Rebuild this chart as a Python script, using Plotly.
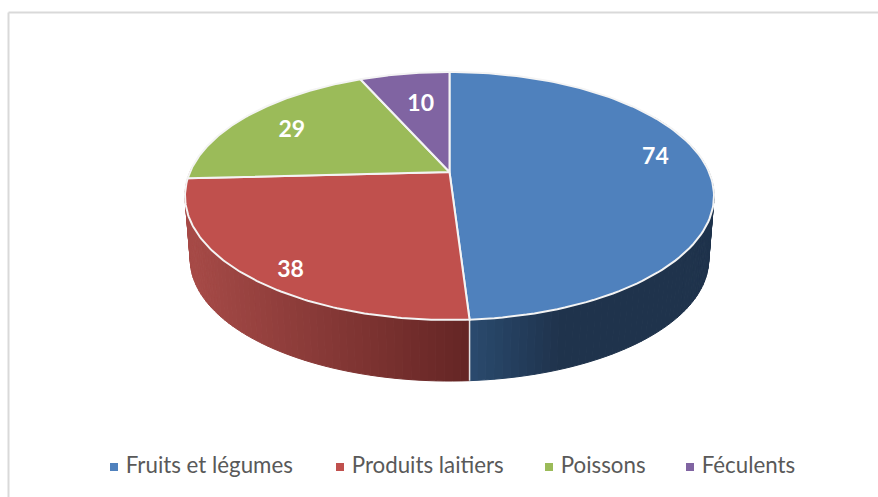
import numpy as np
import plotly.graph_objects as go

categories = ["Fruits et légumes", "Produits laitiers", "Poissons", "Féculents"]
values = [74, 38, 29, 10]
colors = ["#4f81bd", "#c0504d", "#9bbb59", "#8064a2"]

# perspective model of the pie (pixel space of the 878x497 page)
CX, CY = 449.5, 172.0
R, S, K = 259.5, 119.35, -0.1935
BOT_CY, BOT_F = 236.0, 0.98
LABEL_R = 0.79
LABEL_NUDGE = [(2, -11), (-5, 20), (4, 5), (8, 13)]
LEGEND_X = [114, 340, 549, 690]
LEGEND_Y = 467


def project(theta, r=1.0, cy=CY, f=1.0):
    x = r * np.sin(theta)
    y = -r * np.cos(theta)
    d = 1 + K * y
    return CX + f * R * x / d, cy + f * S * y / d


def mix(c1, c2, t):
    t = min(max(t, 0), 1)
    return "rgb(%d,%d,%d)" % tuple(round(a + (b - a) * t) for a, b in zip(c1, c2))


total = sum(values)
edges = 2 * np.pi * np.cumsum([0] + values) / total
fig = go.Figure()


def side_strips(a0, a1, shade):
    n = max(int((a1 - a0) / np.radians(1.5)), 1)
    grid = np.linspace(a0, a1, n + 1)
    for u, v in zip(grid[:-1], grid[1:]):
        tx, ty = project(np.array([u, v]))
        bx, by = project(np.array([v, u]), cy=BOT_CY, f=BOT_F)
        xs = list(tx) + list(bx) + [tx[0]]
        ys = list(ty) + list(by) + [ty[0]]
        col = shade(float(np.mean(tx)))
        fig.add_trace(go.Scatter(x=xs, y=ys, mode="lines", fill="toself", fillcolor=col,
                                 line=dict(color=col, width=1), hoverinfo="skip", showlegend=False))


blue_shade = lambda px: mix((42, 74, 110), (31, 51, 76), (px - 470) / 90)
red_shade = lambda px: mix((166, 74, 71), (100, 37, 36), (px - 190) / 280)

# side walls: only the slices facing the viewer
side_strips(np.radians(60), edges[1], blue_shade)
side_strips(edges[1], edges[2] + np.radians(6), red_shade)

# separator on the wall
sx, sy = project(edges[1])
bx, by = project(edges[1], cy=BOT_CY, f=BOT_F)
fig.add_trace(go.Scatter(x=[sx, sx], y=[sy, by], mode="lines", line=dict(color="#e4e4e4", width=1.5),
                         hoverinfo="skip", showlegend=False))

# top faces
for i, (name, col) in enumerate(zip(categories, colors)):
    th = np.linspace(edges[i], edges[i + 1], 120)
    ax, ay = project(th)
    fig.add_trace(go.Scatter(x=[CX] + list(ax) + [CX], y=[CY] + list(ay) + [CY], mode="lines",
                             fill="toself", fillcolor=col, line=dict(color="#f4f4f4", width=2),
                             name=name, hoverinfo="skip", showlegend=False))

# value labels
for i, v in enumerate(values):
    mid = (edges[i] + edges[i + 1]) / 2
    lx, ly = project(mid, r=LABEL_R)
    fig.add_trace(go.Scatter(x=[lx + LABEL_NUDGE[i][0]], y=[ly + LABEL_NUDGE[i][1]], mode="text",
                             text=[str(v)], textposition="middle center",
                             textfont=dict(family="Lato", size=23, color="white", weight="bold"),
                             hoverinfo="skip", showlegend=False))

# legend row
for name, col, lx in zip(categories, colors, LEGEND_X):
    fig.add_trace(go.Scatter(x=[lx], y=[LEGEND_Y], mode="markers+text",
                             marker=dict(symbol="square", size=8, color=col),
                             text=[" " + name], textposition="middle right",
                             textfont=dict(family="Lato", size=22.3, color="#595959"),
                             hoverinfo="skip", showlegend=False))

fig.update_layout(
    width=878, height=497, margin=dict(l=0, r=0, t=0, b=0),
    paper_bgcolor="white", plot_bgcolor="white", showlegend=False,
    xaxis=dict(range=[0, 878], visible=False, fixedrange=True),
    yaxis=dict(range=[497, 0], visible=False, fixedrange=True),
    shapes=[
        dict(type="line", xref="x", yref="y", x0=8.5, x1=878, y0=12.5, y1=12.5, line=dict(color="#d9d9d9", width=2)),
        dict(type="line", xref="x", yref="y", x0=8.5, x1=8.5, y0=12.5, y1=497, line=dict(color="#d9d9d9", width=2)),
    ],
)
fig.write_html("out.html", config=dict(displayModeBar=False),
               post_script="document.body.style.margin='0';document.body.style.overflow='hidden';")
